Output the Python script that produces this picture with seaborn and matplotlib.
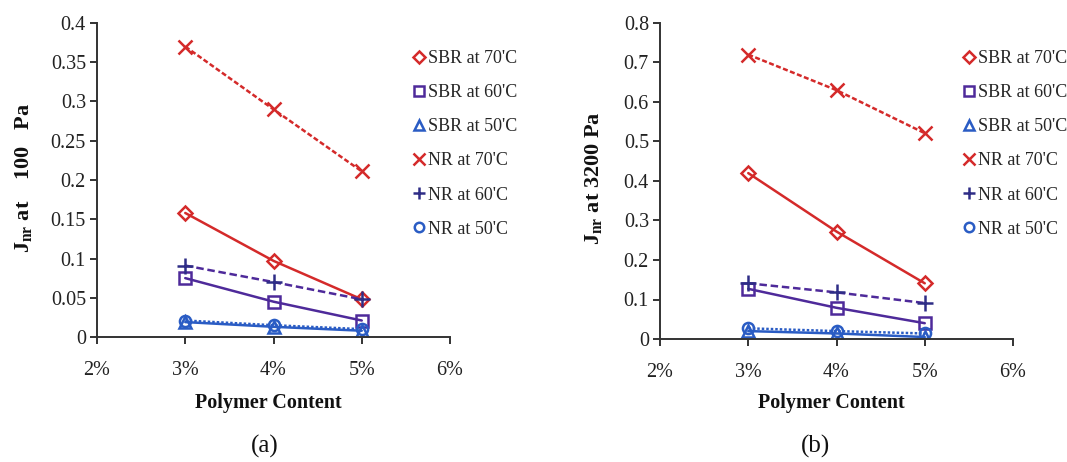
import numpy as np
import pandas as pd
import matplotlib
matplotlib.use("Agg")
import matplotlib.pyplot as plt
from matplotlib.lines import Line2D
from matplotlib.ticker import FuncFormatter, MultipleLocator
import seaborn as sns

# ---------------- data ----------------
polymer_content = [3, 4, 5]          # percent
series_labels = ["SBR at 70'C", "SBR at 60'C", "SBR at 50'C",
                 "NR at 70'C", "NR at 60'C", "NR at 50'C"]

# panel (a): Jnr at 100 Pa
a_sbr70 = [0.158, 0.097, 0.048]
a_sbr60 = [0.075, 0.045, 0.021]
a_sbr50 = [0.019, 0.013, 0.008]
a_nr70 = [0.370, 0.290, 0.211]
a_nr60 = [0.091, 0.070, 0.048]
a_nr50 = [0.021, 0.015, 0.010]

# panel (b): Jnr at 3200 Pa
b_sbr70 = [0.420, 0.272, 0.141]
b_sbr60 = [0.127, 0.079, 0.040]
b_sbr50 = [0.020, 0.014, 0.005]
b_nr70 = [0.720, 0.630, 0.521]
b_nr60 = [0.141, 0.118, 0.091]
b_nr50 = [0.027, 0.020, 0.014]

x_ticks = [2, 3, 4, 5, 6]
a_yticks_step = 0.05
b_yticks_step = 0.1

# ---------------- styles ----------------
RED = "#d42a2a"
PURPLE = "#4e2a9a"
NAVY = "#2e2d86"
BLUE = "#2a5cc4"

styles = [
    dict(color=RED, marker="D", ms=7, ls="-", dashes=None, mec=RED),
    dict(color=PURPLE, marker="s", ms=9, ls="-", dashes=None, mec=PURPLE),
    dict(color=BLUE, marker="^", ms=8, ls="-", dashes=None, mec=BLUE),
    dict(color=RED, marker="x", ms=10, ls="--", dashes=(2.0, 1.0), mec=RED),
    dict(color=PURPLE, marker="+", ms=11, ls="--", dashes=(3.0, 1.5), mec=NAVY),
    dict(color=BLUE, marker="o", ms=8, ls="--", dashes=(1.0, 0.8), mec=BLUE),
]

sns.set_theme(style="white")
plt.rcParams["font.family"] = ["Liberation Serif", "DejaVu Serif"]
plt.rcParams["mathtext.fontset"] = "custom"
plt.rcParams["mathtext.rm"] = "Liberation Serif"
plt.rcParams["mathtext.bf"] = "Liberation Serif:bold"
plt.rcParams["mathtext.it"] = "Liberation Serif:italic"

fig = plt.figure(figsize=(10.67, 4.62), dpi=100)
fig.patch.set_facecolor("white")

ax_a = fig.add_axes([97 / 1067, 1 - 337 / 462, 353 / 1067, 314 / 462])
ax_b = fig.add_axes([660 / 1067, 1 - 339 / 462, 353 / 1067, 316 / 462])

panels = [
    (ax_a, [a_sbr70, a_sbr60, a_sbr50, a_nr70, a_nr60, a_nr50], 0.4, a_yticks_step,
     r"$\mathbf{J}_{\mathbf{nr}}$" + " at    100   Pa", 24, 413 / 1067, "(a)", 265),
    (ax_b, [b_sbr70, b_sbr60, b_sbr50, b_nr70, b_nr60, b_nr50], 0.8, b_yticks_step,
     r"$\mathbf{J}_{\mathbf{nr}}$" + " at 3200 Pa", 593, 963 / 1067, "(b)", 815),
]

fmt_pct = FuncFormatter(lambda v, p: f"{v:g}%")
fmt_y = FuncFormatter(lambda v, p: f"{v:.2f}".rstrip("0").rstrip(".") if v != 0 else "0")

for ax, values, ymax, ystep, ylabel, ylab_x, leg_x, cap, cap_x in panels:
    ax.set_facecolor("white")
    for vals, st, lab in zip(values, styles, series_labels):
        df = pd.DataFrame({"x": polymer_content, "y": vals})
        sns.lineplot(data=df, x="x", y="y", ax=ax, color=st["color"],
                     marker=st["marker"], markersize=st["ms"],
                     markerfacecolor="none", markeredgecolor=st["mec"],
                     markeredgewidth=1.8, linewidth=1.8, linestyle=st["ls"],
                     legend=False)
        line = ax.lines[-1]
        if st["dashes"] is not None:
            line.set_dashes(st["dashes"])
    ax.set_xlim(2, 6)
    ax.set_ylim(0, ymax)
    ax.set_xticks(x_ticks)
    ax.xaxis.set_major_formatter(fmt_pct)
    ax.yaxis.set_major_locator(MultipleLocator(ystep))
    ax.yaxis.set_major_formatter(fmt_y)
    for s in ["top", "right"]:
        ax.spines[s].set_visible(False)
    for s in ["left", "bottom"]:
        ax.spines[s].set_color("#333333")
        ax.spines[s].set_linewidth(1.4)
    ax.tick_params(axis="both", which="major", labelsize=14.5, colors="#333333",
                   labelcolor="#222222", length=5, width=1.4, direction="out",
                   left=True, bottom=True)
    ax.tick_params(axis="x", pad=12)
    ax.tick_params(axis="y", pad=3)
    ax.set_xlabel("")
    ax.set_ylabel("")
    ax.grid(False)

    # axis labels in figure coordinates
    fig.text((ax.get_position().x0 + ax.get_position().x1) / 2 - 5 / 1067, 1 - 403 / 462,
             "Polymer Content", ha="center", va="center", fontsize=14.5,
             fontweight="bold", color="#111111")
    fig.text(ylab_x / 1067, 1 - 178 / 462, ylabel, rotation=90, ha="center",
             va="center", fontsize=16, fontweight="bold", color="#111111")
    fig.text(cap_x / 1067, 1 - 446 / 462, cap, ha="center", va="center",
             fontsize=18, color="#111111")

    handles = [Line2D([], [], linestyle="none", marker=st["marker"],
                      markersize=st["ms"] * 0.85, markerfacecolor="none",
                      markeredgecolor=st["mec"], markeredgewidth=1.8)
               for st in styles]
    ax.legend(handles, series_labels, loc="upper left",
              bbox_to_anchor=(leg_x, 1 - 50 / 462), bbox_transform=fig.transFigure,
              frameon=False, fontsize=13, handlelength=0.7, handletextpad=0.15,
              borderpad=0, borderaxespad=0, labelspacing=0.95)

fig.savefig("out.png", dpi=100, facecolor="white")
